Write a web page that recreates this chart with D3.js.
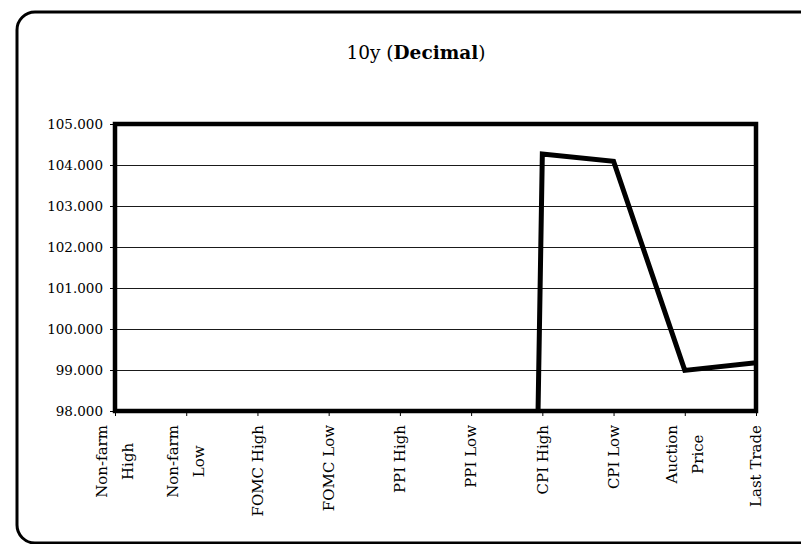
<!DOCTYPE html>
<html>
<head>
<meta charset="utf-8">
<script src="https://cdn.jsdelivr.net/npm/d3@7"></script>
<style>
  body { margin: 0; background: #fff; }
  text { font-family: "DejaVu Serif", serif; fill: #000; }
</style>
</head>
<body>
<script>
var categories = ['Non-farm High', 'Non-farm Low', 'FOMC High', 'FOMC Low', 'PPI High',
  'PPI Low', 'CPI High', 'CPI Low', 'Auction Price', 'Last Trade'];
var labelLines = [['Non-farm', 'High'], ['Non-farm', 'Low'], ['FOMC High'], ['FOMC Low'], ['PPI High'],
  ['PPI Low'], ['CPI High'], ['CPI Low'], ['Auction', 'Price'], ['Last Trade']];
var values = [0, 0, 0, 0, 0, 0, 104.27, 104.09, 98.99, 99.18];
var yTicks = [98, 99, 100, 101, 102, 103, 104, 105];

var W = 801, H = 544;
var plot = { left: 115, top: 124, right: 756, bottom: 411 };

var svg = d3.select('body').append('svg')
  .attr('width', W)
  .attr('height', H);

// chart area with rounded corners, runs off the right and bottom
svg.append('rect')
  .attr('x', 17).attr('y', 12)
  .attr('width', 800).attr('height', 531)
  .attr('rx', 18).attr('ry', 18)
  .style('fill', '#fff')
  .style('stroke', '#000')
  .style('stroke-width', 3);

var title = svg.append('text')
  .attr('x', 416).attr('y', 59)
  .attr('text-anchor', 'middle')
  .style('font-size', '18.5px');
title.append('tspan').text('10y (');
title.append('tspan').style('font-weight', 'bold').text('Decimal');
title.append('tspan').text(')');

var x = d3.scalePoint()
  .domain(categories)
  .range([plot.left, plot.right])
  .padding(0);

var y = d3.scaleLinear()
  .domain([98, 105])
  .range([plot.bottom, plot.top]);

// gridlines
svg.append('g').selectAll('line')
  .data(yTicks.slice(1, -1))
  .enter().append('line')
  .attr('x1', plot.left).attr('x2', plot.right)
  .attr('y1', function(d) { return Math.round(y(d)) + 0.5; })
  .attr('y2', function(d) { return Math.round(y(d)) + 0.5; })
  .style('stroke', '#1a1a1a')
  .style('stroke-width', 1);

// y axis
var yAxis = svg.append('g')
  .attr('transform', 'translate(' + plot.left + ',0)')
  .call(d3.axisLeft(y).tickValues(yTicks).tickSize(5).tickPadding(7)
    .tickFormat(d3.format('.3f')));
yAxis.select('.domain').remove();
yAxis.selectAll('text').style('font-size', '13.5px').style('font-family', '"DejaVu Serif", serif');
yAxis.selectAll('line').style('stroke', '#000');

// x axis ticks
var xAxis = svg.append('g')
  .attr('transform', 'translate(0,' + plot.bottom + ')')
  .call(d3.axisBottom(x).tickSize(5).tickFormat(''));
xAxis.select('.domain').remove();
xAxis.selectAll('line').style('stroke', '#000');

// rotated category labels, lines centred, block ending under the axis
var lineGap = 26;
var labels = svg.append('g').selectAll('g')
  .data(categories)
  .enter().append('g');

labels.each(function(d, i) {
  var g = d3.select(this);
  var lines = labelLines[i];
  var t = g.append('text')
    .attr('text-anchor', 'middle')
    .style('font-size', '15px');
  lines.forEach(function(s, k) {
    t.append('tspan')
      .attr('x', 0)
      .attr('y', (k - (lines.length - 1) / 2) * lineGap)
      .attr('dy', '0.35em')
      .text(s);
  });
  var maxLen = 0;
  t.selectAll('tspan').each(function() {
    maxLen = Math.max(maxLen, this.getComputedTextLength());
  });
  t.attr('x', -maxLen / 2);
  t.selectAll('tspan').attr('x', -maxLen / 2);
  g.attr('transform', 'translate(' + x(d) + ',425) rotate(-90)');
});

// series line clipped to the plot
svg.append('clipPath').attr('id', 'clip')
  .append('rect')
  .attr('x', plot.left).attr('y', plot.top)
  .attr('width', plot.right - plot.left)
  .attr('height', plot.bottom - plot.top);

var line = d3.line()
  .x(function(d, i) { return x(categories[i]); })
  .y(function(d) { return y(d); });

svg.append('path')
  .datum(values)
  .attr('clip-path', 'url(#clip)')
  .attr('d', line)
  .style('fill', 'none')
  .style('stroke', '#000')
  .style('stroke-width', 5)
  .style('stroke-linejoin', 'miter');

// plot frame
svg.append('rect')
  .attr('x', plot.left).attr('y', plot.top)
  .attr('width', plot.right - plot.left)
  .attr('height', plot.bottom - plot.top)
  .style('fill', 'none')
  .style('stroke', '#000')
  .style('stroke-width', 4.5);
</script>
</body>
</html>
